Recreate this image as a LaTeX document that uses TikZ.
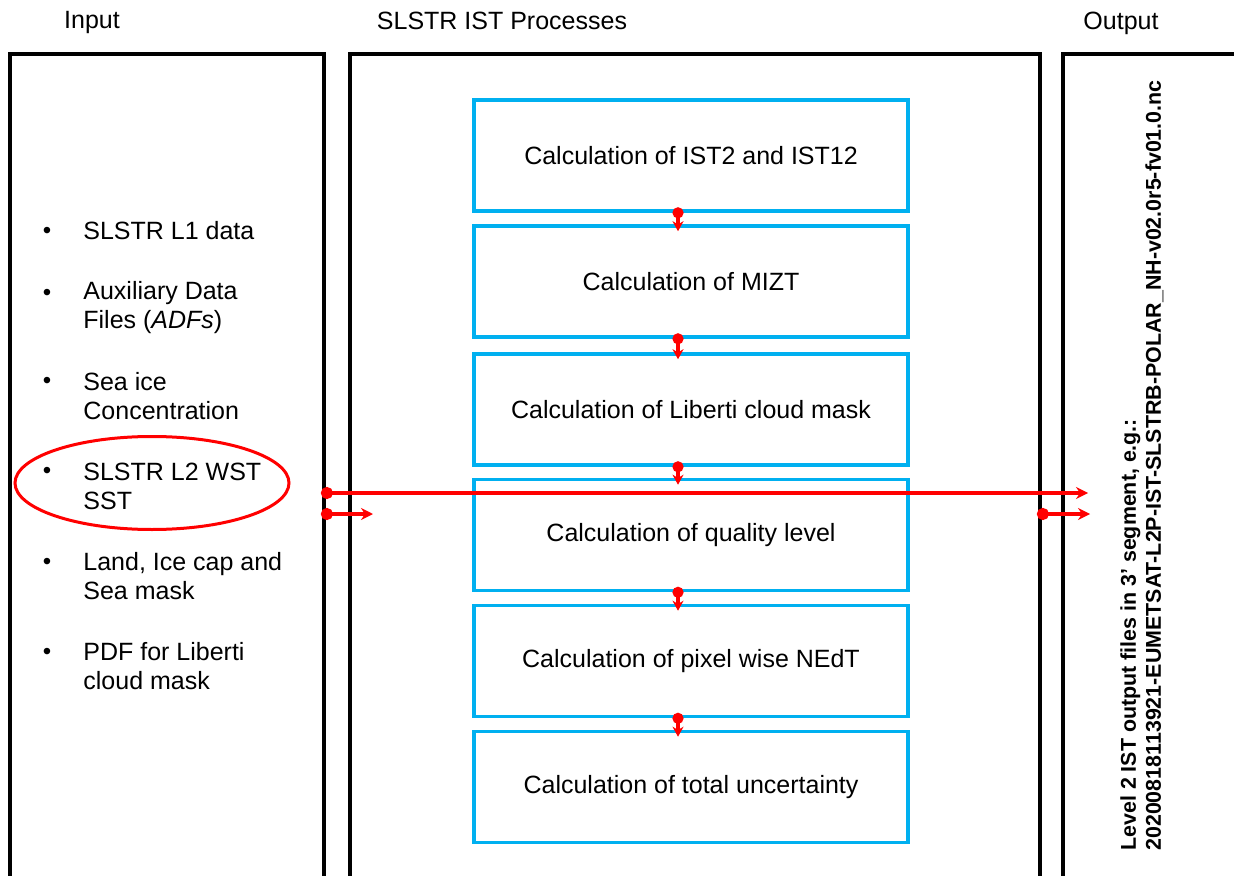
\documentclass[tikz,border=0pt]{standalone}
\usepackage{fontspec}
\setmainfont{Liberation Sans}
\usetikzlibrary{arrows.meta,shapes.geometric}
\definecolor{procblue}{RGB}{0,176,240}
\definecolor{flowred}{RGB}{255,0,0}
\tikzset{
  panel/.style={draw=black,line width=1.9pt,rectangle,inner sep=0pt},
  proc/.style={draw=procblue,line width=1.8pt,rectangle,minimum width=217pt,minimum height=55.5pt,font=\fontsize{12.5}{14.5}\selectfont},
  head/.style={font=\fontsize{12.5}{14.5}\selectfont},
  item/.style={anchor=west,align=left,inner sep=0pt,font=\fontsize{12.5}{14.5}\selectfont},
  dot/.style={inner sep=0pt,font=\fontsize{12}{14}\selectfont},
  link/.style={flowred,line width=1.6pt,{Circle[length=5.5pt]}-{Stealth[length=5pt,width=5.5pt]},shorten <=-2.75pt,shorten >=-3.5pt},
  feed/.style={flowred,line width=1.8pt,{Circle[length=6pt]}-{Stealth[length=6pt,width=6pt]},shorten <=-2.5pt},
}
\begin{document}
\begin{tikzpicture}[x=0.5pt,y=-0.5pt]
	\useasboundingbox (0,0) rectangle (1234,876);
	\clip (0,0) rectangle (1234,876);
	% panels
	\node[panel,minimum width=157pt,minimum height=423pt] (inpanel) at (167,477) {};
	\node[panel,minimum width=345pt,minimum height=423pt] (procpanel) at (695,477) {};
	\node[panel,minimum width=118.5pt,minimum height=423pt] (outpanel) at (1181.5,477) {};
	\node[head] (hIn) at (92,23) {Input};
	\node[head] (hProc) at (502,21) {SLSTR IST Processes};
	\node[head] (hOut) at (1121,23) {Output};
	% processes
	\node[proc] (calcIST) at (691,155.5) {Calculation of IST2 and IST12};
	\node[proc] (calcMIZT) at (691,281.5) {Calculation of MIZT};
	\node[proc] (calcCloud) at (691,409.5) {Calculation of Liberti cloud mask};
	\node[proc] (calcQL) at (691,535) {Calculation of quality level};
	\node[proc] (calcNEdT) at (691,661) {Calculation of pixel wise NEdT};
	\node[proc] (calcUnc) at (691,787) {Calculation of total uncertainty};
	% inputs
	\node[ellipse,draw=flowred,line width=1.5pt,minimum width=137pt,minimum height=46.5pt,inner sep=0pt] (wstring) at (152,483) {};
	\node[dot] (b1) at (47,233) {\textbullet};
	\node[dot] (b2) at (47,295) {\textbullet};
	\node[dot] (b3) at (47,383) {\textbullet};
	\node[dot] (b4) at (47,473) {\textbullet};
	\node[dot] (b5) at (47,564) {\textbullet};
	\node[dot] (b6) at (47,654) {\textbullet};
	\node[item] (t1) at (83,231) {SLSTR L1 data};
	\node[item] (t2) at (83,307.5) {Auxiliary Data\\Files (\textit{ADFs})};
	\node[item] (t3) at (83,396) {Sea ice\\Concentration};
	\node[item] (t4) at (83,486) {SLSTR L2 WST\\SST};
	\node[item] (t5) at (83,576.5) {Land, Ice cap and\\Sea mask};
	\node[item] (t6) at (83,666.5) {PDF for Liberti\\cloud mask};
	% output
	\node[rotate=90,anchor=west,align=left,inner sep=0pt,font=\bfseries\fontsize{10.7}{12.5}\selectfont] (outfile) at (1142,851) {Level 2 IST output files in 3’ segment, e.g.:\\20200818113921-EUMETSAT-L2P-IST-SLSTRB-POLAR\_NH-v02.0r5-fv01.0.nc};
	% flow
	\draw[link] ([xshift=-6.5pt]calcIST.south) -- ([xshift=-6.5pt]calcMIZT.north);
	\draw[link] ([xshift=-6.5pt]calcMIZT.south) -- ([xshift=-6.5pt]calcCloud.north);
	\draw[link] ([xshift=-6.5pt]calcCloud.south) -- ([xshift=-6.5pt]calcQL.north);
	\draw[link] ([xshift=-6.5pt]calcQL.south) -- ([xshift=-6.5pt]calcNEdT.north);
	\draw[link] ([xshift=-6.5pt]calcNEdT.south) -- ([xshift=-6.5pt]calcUnc.north);
	\coordinate (outA) at (1088,493);
	\coordinate (inB) at (373,514);
	\coordinate (outB) at (1090,514);
	\draw[feed] (inpanel.east |- outA) -- (outA);
	\draw[feed] (inpanel.east |- inB) -- (inB);
	\draw[feed] (procpanel.east |- outB) -- (outB);
\end{tikzpicture}
\end{document}
